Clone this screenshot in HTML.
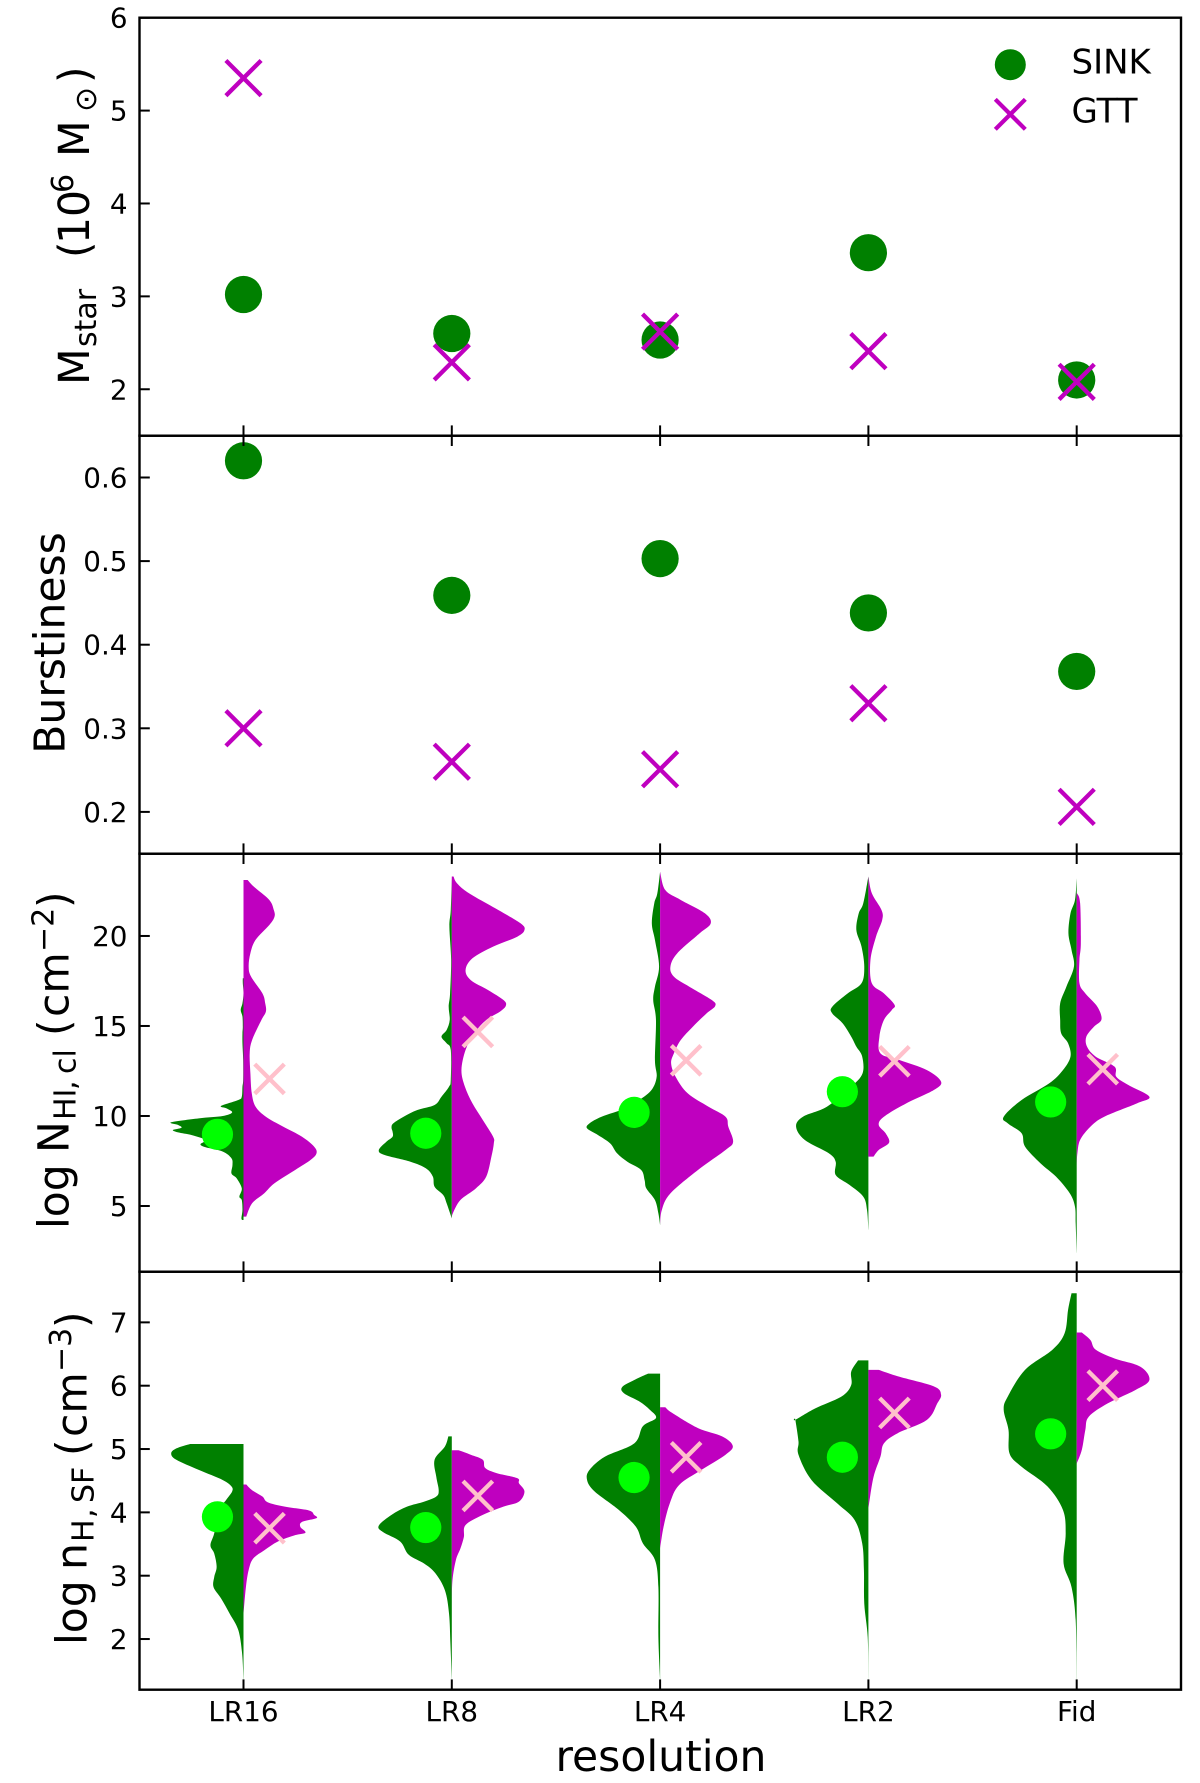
<!DOCTYPE html>
<html lang="en">
<head>
<meta charset="utf-8">
<title>Resolution study: SINK vs GTT</title>
<style>
html,body{margin:0;padding:0;background:#fff;}
svg{display:block;}
text{font-family:"DejaVu Sans","Liberation Sans",sans-serif;fill:#000;}
.tick{font-size:27.8px;}
.lab{font-size:42.5px;}
.sub{font-size:30px;}
.leg{font-size:34px;}
</style>
</head>
<body>
<svg id="chart" xmlns="http://www.w3.org/2000/svg" width="1200" height="1783" viewBox="0 0 1200 1783">
  <rect x="0" y="0" width="1200" height="1783" fill="#fff"/>
  <g id="violins"></g>
  <g id="marks"></g>
  <g id="axes"></g>

  <g transform="translate(88.8,385) rotate(-90)">
    <text class="lab"><tspan x="0" y="0">M</tspan><tspan class="sub" x="38" y="7">star</tspan><tspan x="127" y="0">(</tspan><tspan x="141" y="0">10</tspan><tspan class="sub" x="192" y="-16">6</tspan><tspan x="228" y="0">M</tspan><tspan class="sub" x="273" y="7">⊙</tspan><tspan x="302" y="0">)</tspan></text>
  </g>
  <g transform="translate(64.3,643) rotate(-90)">
    <text class="lab" text-anchor="middle">Burstiness</text>
  </g>
  <g transform="translate(68.3,1229) rotate(-90)">
    <text class="lab"><tspan x="0" y="0">log</tspan><tspan x="76" y="0">N</tspan><tspan class="sub" x="109" y="7">HI</tspan><tspan class="sub" x="139" y="7">,</tspan><tspan class="sub" x="155" y="7">cl</tspan><tspan x="193" y="0">(</tspan><tspan x="212" y="0">cm</tspan><tspan class="sub" x="277" y="-15">−2</tspan><tspan x="321" y="0">)</tspan></text>
  </g>
  <g transform="translate(86.7,1645) rotate(-90)">
    <text class="lab"><tspan x="0" y="0">log</tspan><tspan x="75" y="0">n</tspan><tspan class="sub" x="103" y="7">H</tspan><tspan class="sub" x="127" y="7">,</tspan><tspan class="sub" x="142" y="7">SF</tspan><tspan x="189" y="0">(</tspan><tspan x="208" y="0">cm</tspan><tspan class="sub" x="273" y="-15.7">−3</tspan><tspan x="317" y="0">)</tspan></text>
  </g>
  <text class="lab" x="661" y="1771" text-anchor="middle">resolution</text>

  <g>
    <circle cx="1010.3" cy="64.7" r="15.5" fill="#008000"/>
    <text class="leg" x="1071.5" y="73.3">SINK</text>
    <path d="M995.3 99.3L1025.3 129.3M995.3 129.3L1025.3 99.3" stroke="#bf00bf" stroke-width="4.2" fill="none"/>
    <text class="leg" x="1071.5" y="122.7">GTT</text>
  </g>
</svg>

<script>
/* ---------- data ---------- */
const categories = ["LR16", "LR8", "LR4", "LR2", "Fid"];

const mstarTicks = [2, 3, 4, 5, 6];
const burstTicks = [0.2, 0.3, 0.4, 0.5, 0.6];
const nhiTicks = [5, 10, 15, 20];
const nhTicks = [2, 3, 4, 5, 6, 7];

const mstarSink = [3.02, 2.60, 2.53, 3.47, 2.10];
const mstarGtt = [5.35, 2.29, 2.62, 2.41, 2.08];
const burstSink = [0.62, 0.459, 0.503, 0.438, 0.368];
const burstGtt = [0.30, 0.26, 0.251, 0.33, 0.206];

const nhiSinkMedian = [8.98, 9.04, 10.2, 11.35, 10.78];
const nhiGttMedian = [12.06, 14.67, 13.09, 13.04, 12.6];
const nhSinkMedian = [3.93, 3.76, 4.55, 4.87, 5.24];
const nhGttMedian = [3.75, 4.26, 4.87, 5.57, 6.0];

/* violin outlines: [value, density] */
const nhiSinkLR16 = [[17.65,2],[17.37,2],[16.81,0],[16.26,3],[15.89,8],[15.52,3],[14.96,2],[14.59,3],[14.04,3],[13.11,1],[12.0,1],[11.63,3],[11.07,5],[10.89,15],[10.56,65],[10.43,50],[10.2,33],[10.0,60],[9.87,130],[9.65,210],[9.5,190],[9.35,180],[9.22,205],[9.09,190],[8.94,150],[8.67,110],[8.43,125],[8.26,110],[8.02,60],[7.65,35],[7.28,32],[6.81,35],[6.54,20],[5.98,5],[5.52,12],[5.33,5],[4.78,3],[4.32,6],[4.22,3]];
const nhiGttLR16 = [[23.11,12],[22.74,30],[22.0,75],[21.44,88],[21.07,90],[20.61,75],[19.78,35],[19.04,20],[18.3,15],[17.74,22],[16.81,55],[16.26,63],[15.8,65],[15.33,52],[14.22,25],[13.48,18],[12.37,20],[11.26,24],[10.52,35],[9.96,65],[9.41,115],[8.85,170],[8.3,205],[7.93,212],[7.56,195],[7.0,150],[6.26,90],[5.7,60],[5.15,25],[4.41,8]];
const nhiSinkLR8 = [[23.3,0],[21.44,3],[20.52,7],[18.67,2],[16.81,5],[16.07,9],[15.33,6],[14.78,15],[14.41,30],[14.04,15],[13.67,3],[12.0,3],[11.63,8],[11.07,30],[10.61,50],[10.33,100],[9.96,140],[9.59,170],[9.35,175],[9.13,172],[8.85,172],[8.57,190],[8.11,212],[7.83,195],[7.46,120],[7.09,75],[6.63,55],[6.07,50],[5.61,25],[5.15,15],[4.31,0]];
const nhiGttLR8 = [[23.3,5],[22.93,15],[22.37,50],[21.44,135],[20.7,200],[20.33,211],[19.96,190],[19.41,120],[18.76,60],[18.11,40],[17.55,55],[17.0,105],[16.44,150],[16.13,157],[15.8,140],[15.33,100],[14.59,65],[13.67,40],[12.55,28],[11.63,38],[10.7,60],[9.78,90],[8.85,120],[8.48,122],[7.74,115],[6.63,100],[5.98,70],[5.33,25],[4.59,3],[4.31,0]];
const nhiSinkLR4 = [[23.57,0],[22.37,8],[21.81,17],[20.7,24],[19.78,15],[18.3,3],[17.18,15],[16.44,20],[15.33,12],[13.11,15],[12.18,10],[11.44,25],[10.89,60],[10.43,100],[9.96,170],[9.59,205],[9.31,212],[8.94,180],[8.48,145],[7.93,125],[7.46,95],[7.0,55],[6.44,45],[5.98,40],[5.33,15],[4.59,5],[3.94,0]];
const nhiGttLR4 = [[23.57,0],[22.55,15],[22.0,60],[21.26,130],[20.7,147],[20.15,115],[19.04,50],[18.3,30],[17.74,40],[17.18,85],[16.44,150],[16.11,160],[15.7,135],[14.96,95],[14.22,60],[13.48,40],[12.92,32],[12.18,45],[11.26,80],[10.52,140],[9.96,190],[9.41,198],[8.57,212],[8.11,190],[7.0,110],[5.7,30],[4.78,5],[3.94,0]];
const nhiSinkLR2 = [[23.3,0],[21.81,15],[21.26,28],[20.33,35],[19.41,20],[18.3,12],[17.37,20],[16.81,60],[16.07,105],[15.7,105],[15.15,75],[14.41,50],[13.85,35],[13.3,18],[12.37,17],[11.63,50],[10.52,120],[9.96,190],[9.41,210],[8.67,185],[7.93,115],[7.46,95],[6.72,95],[6.17,55],[5.52,15],[4.78,4],[3.67,0]];
const nhiGttLR2 = [[23.3,0],[22.37,10],[21.44,38],[20.89,40],[19.96,22],[18.67,6],[17.37,10],[16.81,45],[16.17,76],[15.89,68],[15.33,45],[14.41,32],[13.48,35],[13.11,90],[12.55,170],[11.91,211],[11.44,190],[10.7,110],[9.96,45],[9.5,30],[9.04,50],[8.52,60],[8.11,30],[7.74,15]];
const nhiSinkFid = [[23.2,0],[22.0,5],[21.26,18],[20.15,24],[19.22,15],[18.3,8],[17.18,30],[16.26,48],[15.33,48],[14.59,45],[14.04,25],[13.3,18],[12.55,40],[11.81,80],[10.89,160],[9.96,212],[9.59,200],[9.04,160],[8.3,150],[7.37,105],[6.63,60],[5.7,20],[4.96,5],[4.04,3],[2.37,0]];
const nhiGttFid = [[22.37,1],[21.81,10],[19.59,12],[18.67,8],[17.37,8],[16.81,25],[16.07,60],[15.37,72],[14.96,50],[14.41,28],[13.85,30],[13.3,55],[12.74,110],[12.18,115],[11.72,150],[11.07,211],[10.7,175],[9.96,80],[9.41,40],[8.67,10],[7.93,2],[7.28,0]];

const nhSinkLR16 = [[5.08,155],[5.01,195],[4.93,210],[4.83,195],[4.67,130],[4.51,60],[4.41,35],[4.33,33],[4.2,50],[4.04,70],[3.67,85],[3.48,96],[3.35,85],[3.14,78],[2.98,85],[2.82,87],[2.64,65],[2.4,40],[2.14,15],[1.77,4],[1.35,0]];
const nhGttLR16 = [[4.44,8],[4.35,25],[4.25,55],[4.16,70],[4.09,120],[4.03,190],[3.96,205],[3.91,212],[3.85,170],[3.77,165],[3.68,180],[3.64,150],[3.54,100],[3.4,60],[3.27,28],[3.09,15],[2.82,7],[2.4,0]];
const nhSinkLR8 = [[5.2,10],[5.04,20],[4.83,50],[4.56,45],[4.35,38],[4.25,45],[4.17,80],[4.09,130],[3.96,175],[3.79,212],[3.69,200],[3.54,150],[3.33,125],[3.19,80],[3.04,48],[2.77,20],[2.4,8],[1.93,4],[1.35,0]];
const nhGttLR8 = [[4.98,20],[4.91,55],[4.83,90],[4.7,97],[4.62,130],[4.54,190],[4.46,195],[4.33,211],[4.17,195],[4.09,150],[3.96,90],[3.8,40],[3.61,35],[3.43,25],[3.25,12],[2.93,2],[2.56,0]];
const nhSinkLR4 = [[6.19,35],[6.09,75],[5.98,110],[5.88,105],[5.75,60],[5.62,30],[5.49,12],[5.36,50],[5.09,75],[4.88,160],[4.67,205],[4.51,212],[4.33,190],[4.04,120],[3.77,70],[3.51,50],[3.25,15],[2.82,5],[2.03,5],[1.35,0]];
const nhGttLR4 = [[5.66,15],[5.57,35],[5.33,110],[5.2,180],[5.05,211],[4.91,190],[4.67,120],[4.43,55],[4.14,28],[3.77,10],[3.43,0]];
const nhSinkLR2 = [[6.4,30],[6.22,50],[6.01,50],[5.83,78],[5.64,155],[5.46,212],[5.46,212],[5.12,203],[4.91,203],[4.51,165],[4.14,90],[3.88,40],[3.51,18],[3.09,13],[2.56,12],[2.03,2],[1.35,0]];
const nhGttLR2 = [[6.25,30],[6.15,85],[5.99,190],[5.86,211],[5.72,200],[5.46,170],[5.25,85],[5.09,45],[4.88,35],[4.56,15],[4.14,2],[4.04,0]];
const nhSinkFid = [[7.46,15],[7.2,25],[6.83,35],[6.57,70],[6.25,150],[5.83,200],[5.62,212],[5.3,198],[4.93,195],[4.72,160],[4.41,85],[4.04,40],[3.67,32],[3.19,38],[2.82,15],[2.3,3],[1.35,0]];
const nhGttFid = [[6.84,15],[6.72,40],[6.57,55],[6.43,110],[6.3,185],[6.09,211],[5.93,170],[5.72,90],[5.51,35],[5.3,25],[4.99,15],[4.77,0]];

const nhiSinkViolins = [nhiSinkLR16, nhiSinkLR8, nhiSinkLR4, nhiSinkLR2, nhiSinkFid];
const nhiGttViolins = [nhiGttLR16, nhiGttLR8, nhiGttLR4, nhiGttLR2, nhiGttFid];
const nhSinkViolins = [nhSinkLR16, nhSinkLR8, nhSinkLR4, nhSinkLR2, nhSinkFid];
const nhGttViolins = [nhGttLR16, nhGttLR8, nhGttLR4, nhGttLR2, nhGttFid];

/* ---------- axis functions ---------- */
const NS = "http://www.w3.org/2000/svg";
const plotLeft = 139.5, plotRight = 1181;
function xPos(i) { return 243.5 + 208.3 * i; }
function widthPx(d) { return d * 0.3444; }
function yScale(min, max, top, bottom) {
  return function (v) { return bottom - (v - min) / (max - min) * (bottom - top); };
}
const yMstar = yScale(1.5, 6, 17.7, 435.7);
const yBurst = yScale(0.15, 0.65, 435.7, 853.7);
const yNhi = yScale(1.35, 24.57, 853.7, 1271.7);
const yNh = yScale(1.2, 7.8, 1271.7, 1689.7);

const violinLayer = document.getElementById("violins");
const markLayer = document.getElementById("marks");
const axisLayer = document.getElementById("axes");

function make(tag, attrs) {
  const node = document.createElementNS(NS, tag);
  for (const k in attrs) node.setAttribute(k, attrs[k]);
  return node;
}

function smoothPath(pts) {
  let d = "L" + pts[0][0].toFixed(2) + " " + pts[0][1].toFixed(2);
  for (let i = 0; i < pts.length - 1; i++) {
    const p0 = pts[Math.max(i - 1, 0)], p1 = pts[i], p2 = pts[i + 1], p3 = pts[Math.min(i + 2, pts.length - 1)];
    const c1x = p1[0] + (p2[0] - p0[0]) / 6, c1y = p1[1] + (p2[1] - p0[1]) / 6;
    const c2x = p2[0] - (p3[0] - p1[0]) / 6, c2y = p2[1] - (p3[1] - p1[1]) / 6;
    d += "C" + c1x.toFixed(2) + " " + c1y.toFixed(2) + " " + c2x.toFixed(2) + " " + c2y.toFixed(2) + " " + p2[0].toFixed(2) + " " + p2[1].toFixed(2);
  }
  return d;
}

function drawViolin(outline, catIndex, side, y, color, name) {
  const xc = xPos(catIndex);
  const pts = outline.map(function (p) { return [xc + side * widthPx(p[1]), y(p[0])]; });
  const d = "M" + xc.toFixed(2) + " " + pts[0][1].toFixed(2) + smoothPath(pts) + "L" + xc.toFixed(2) + " " + pts[pts.length - 1][1].toFixed(2) + "Z";
  const path = make("path", { d: d, fill: color });
  
  
  violinLayer.appendChild(path);
}

function drawCircle(xVal, yVal, r, color, name) {
  const c = make("circle", { cx: xVal, cy: yVal, r: r, fill: color });
  
  
  markLayer.appendChild(c);
}

function drawCross(xVal, yVal, half, color, name) {
  const d = "M" + (xVal - half) + " " + (yVal - half) + "L" + (xVal + half) + " " + (yVal + half) + "M" + (xVal - half) + " " + (yVal + half) + "L" + (xVal + half) + " " + (yVal - half);
  const c = make("path", { d: d, stroke: color, "stroke-width": 4.3, fill: "none" });
  
  
  markLayer.appendChild(c);
}

function drawAxes(ticks, y, top, bottom, panel, decimals) {
  const frame = make("rect", { x: plotLeft, y: top, width: plotRight - plotLeft, height: bottom - top, fill: "none", stroke: "#000", "stroke-width": 2.4 });
  
  
  axisLayer.appendChild(frame);
  ticks.forEach(function (t) {
    const line = make("line", { x1: plotLeft, x2: plotLeft + 10.3, y1: y(t), y2: y(t), stroke: "#000", "stroke-width": 2 });
    
    
    axisLayer.appendChild(line);
    const label = make("text", { x: 127.5, y: y(t) + 10, "text-anchor": "end", class: "tick" });
    label.textContent = t.toFixed(decimals);
    
    
    axisLayer.appendChild(label);
  });
  categories.forEach(function (cat, i) {
    const bottomTick = make("line", { x1: xPos(i), x2: xPos(i), y1: bottom, y2: bottom - 10.3, stroke: "#000", "stroke-width": 2 });
    
    
    axisLayer.appendChild(bottomTick);
    if (panel !== "mstar") {
      const topTick = make("line", { x1: xPos(i), x2: xPos(i), y1: top, y2: top + 10.3, stroke: "#000", "stroke-width": 2 });
      
      
      axisLayer.appendChild(topTick);
    }
  });
}

/* ---------- violins ---------- */
categories.forEach(function (cat, i) {
  drawViolin(nhiSinkViolins[i], i, -1, yNhi, "#008000", "nhi-violin-sink-" + cat);
  drawViolin(nhiGttViolins[i], i, 1, yNhi, "#bf00bf", "nhi-violin-gtt-" + cat);
  drawViolin(nhSinkViolins[i], i, -1, yNh, "#008000", "nh-violin-sink-" + cat);
  drawViolin(nhGttViolins[i], i, 1, yNh, "#bf00bf", "nh-violin-gtt-" + cat);
});

/* ---------- axes ---------- */
drawAxes(mstarTicks, yMstar, 17.7, 435.7, "mstar", 0);
drawAxes(burstTicks, yBurst, 435.7, 853.7, "burstiness", 1);
drawAxes(nhiTicks, yNhi, 853.7, 1271.7, "nhi", 0);
drawAxes(nhTicks, yNh, 1271.7, 1689.7, "nh", 0);

/* ---------- markers ---------- */
const medianOffset = 0.125;
categories.forEach(function (cat, i) {
  const x = xPos(i);
  drawCircle(x, yMstar(mstarSink[i]), 18.6, "#008000", "mstar-sink-" + cat);
  drawCross(x, yMstar(mstarGtt[i]), 17.6, "#bf00bf", "mstar-gtt-" + cat);
  drawCircle(x, yBurst(burstSink[i]), 18.6, "#008000", "burstiness-sink-" + cat);
  drawCross(x, yBurst(burstGtt[i]), 17.6, "#bf00bf", "burstiness-gtt-" + cat);
  drawCircle(xPos(i - medianOffset), yNhi(nhiSinkMedian[i]), 15.6, "#00ff00", "nhi-median-sink-" + cat);
  drawCross(xPos(i + medianOffset), yNhi(nhiGttMedian[i]), 14.8, "#ffc0cb", "nhi-median-gtt-" + cat);
  drawCircle(xPos(i - medianOffset), yNh(nhSinkMedian[i]), 15.6, "#00ff00", "nh-median-sink-" + cat);
  drawCross(xPos(i + medianOffset), yNh(nhGttMedian[i]), 14.8, "#ffc0cb", "nh-median-gtt-" + cat);
});

/* ---------- x tick labels ---------- */
categories.forEach(function (cat, i) {
  const label = make("text", { x: xPos(i), y: 1721, "text-anchor": "middle", class: "tick" });
  label.textContent = cat;
  
  
  axisLayer.appendChild(label);
});
</script>
</body>
</html>
